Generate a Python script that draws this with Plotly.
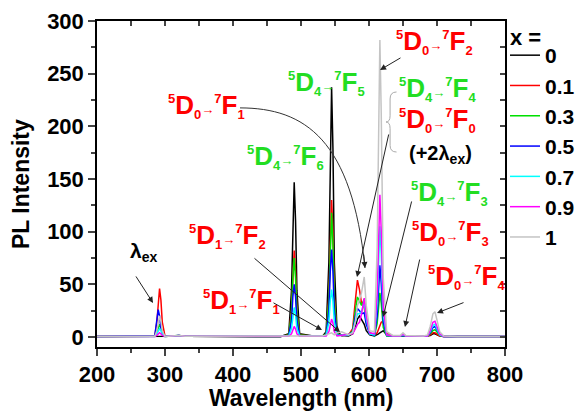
import plotly.graph_objects as go

# ---------------- data ----------------
wavelength = [200, 282,
              285, 288, 290, 292, 294, 296, 300,
              312, 320, 330,
              470,
              482, 486, 488, 490, 492, 494, 498,
              520, 532,
              537, 541, 543, 545, 547, 549, 553,
              560, 570,
              576, 580, 583, 586, 589, 593, 596, 601,
              608, 612, 614, 616, 618, 621, 626,
              635, 646, 650, 654, 680,
              686, 690, 694, 697, 700, 704, 710,
              730, 800]

x0_0 = [0.5, 0.5,
        0.5, 0.6, 0.8, 1, 0.8, 0.6, 0.5,
        0.8, 1.5, 0.8,
        0.5,
        3, 44, 110, 147, 110, 44, 3,
        0.8, 1,
        5, 71, 178, 237, 178, 71, 5,
        1.5, 1,
        3, 10, 17, 20, 16, 12, 6, 2,
        1, 2, 3, 4, 5, 6, 2,
        1, 1, 1.2, 1, 0.8,
        0.8, 1.5, 3, 3, 2, 1, 0.5,
        0.5, 0.5]

x0_1 = [0.5, 0.5,
        0.8, 14, 35, 46, 35, 14, 0.8,
        0.8, 1.5, 0.8,
        0.5,
        2, 25, 62, 82, 62, 25, 2,
        0.8, 1,
        3, 39, 98, 130, 98, 39, 3,
        1.5, 2,
        8, 35, 54, 45, 32, 28, 14, 4,
        2, 4, 8, 12, 14, 15, 4,
        1, 1, 1.5, 1, 0.8,
        0.8, 2, 4, 4, 3, 1, 0.5,
        0.5, 0.5]

x0_3 = [0.5, 0.5,
        0.6, 4, 9, 12, 9, 4, 0.6,
        0.8, 1.5, 0.8,
        0.5,
        2, 22, 56, 75, 56, 22, 2,
        0.8, 1,
        3, 35, 88, 118, 88, 35, 3,
        1.5, 2,
        6, 26, 38, 34, 30, 36, 18, 4,
        1, 13, 32, 42, 32, 9, 1,
        1, 1, 1.5, 1, 0.8,
        0.8, 3, 6, 7, 5, 1.5, 0.5,
        0.5, 0.5]

x0_5 = [0.5, 0.5,
        1, 16, 26, 20, 8, 3, 0.6,
        0.8, 1.5, 0.8,
        0.5,
        1.5, 15, 38, 50, 38, 15, 1.5,
        0.8, 1,
        2, 25, 62, 83, 62, 25, 2,
        1.5, 2,
        5, 20, 27, 25, 22, 23, 12, 3,
        1.5, 20, 51, 68, 51, 14, 1.5,
        1, 1, 1.5, 1, 0.8,
        1, 4, 9, 10, 7, 2, 0.5,
        0.5, 0.5]

x0_7 = [0.5, 0.5,
        0.5, 3, 6, 8, 6, 3, 0.5,
        0.8, 1.5, 0.8,
        0.5,
        1, 8, 21, 28, 21, 8, 1,
        0.8, 1,
        1.5, 14, 34, 45, 34, 14, 1.5,
        1.5, 2,
        4, 15, 22, 22, 24, 33, 17, 3,
        2, 32, 79, 105, 79, 21, 2,
        1, 1, 2, 1, 0.8,
        1, 5, 11, 12, 8, 2, 0.5,
        0.5, 0.5]

x0_9 = [0.5, 0.5,
        0.5, 1.5, 3, 4, 3, 1.5, 0.5,
        0.8, 1.5, 0.8,
        0.5,
        0.6, 3, 7.5, 10, 7.5, 3, 0.6,
        0.8, 1,
        1, 5, 13, 17, 13, 5, 1,
        1.5, 2,
        3, 8, 12, 14, 22, 37, 20, 4,
        3, 40, 101, 135, 101, 27, 2,
        1, 1, 2.5, 1, 0.8,
        1, 6, 14, 15, 10, 3, 0.5,
        0.5, 0.5]

x1_0 = [0.5, 0.5,
        0.5, 6, 15, 20, 15, 6, 0.5,
        0.8, 1.5, 0.8,
        0.5,
        0.8, 1, 1, 1, 1, 1, 0.8,
        0.8, 1,
        2, 3, 4, 4, 3, 2, 4,
        5, 2,
        4, 15, 30, 35, 42, 57, 30, 6,
        5, 85, 212, 282, 212, 56, 5,
        1.5, 1.5, 4, 1.5, 1,
        2, 10, 22, 24, 16, 5, 1,
        0.5, 0.5]

series_names = ["0", "0.1", "0.3", "0.5", "0.7", "0.9", "1"]
series_values = [x0_0, x0_1, x0_3, x0_5, x0_7, x0_9, x1_0]
series_colors = ["#000000", "#ff0000", "#00e000", "#0000ff", "#00ffff", "#ff00ff", "#c4c4c4"]

x_ticks = [200, 300, 400, 500, 600, 700, 800]
y_ticks = [0, 50, 100, 150, 200, 250, 300]

FONT = "Liberation Sans"
RED = "#ff0000"
GRN = "#22dd22"

fig = go.Figure()
for name, vals, col in zip(series_names, series_values, series_colors):
    fig.add_trace(go.Scatter(x=wavelength, y=vals, mode="lines", name=name,
                             legendgroup=name,
                             line=dict(color=col, width=1.5)))

# dummy trace for top/right tick axes
fig.add_trace(go.Scatter(x=[200], y=[0], xaxis="x2", yaxis="y2", mode="markers",
                         marker=dict(opacity=0), showlegend=False, hoverinfo="skip"))


def label(a, b, c, d, color):
    s = "<span style='font-size:13px'>"
    return (f"<sup>{s}{a}</span></sup>D<sub>{s}{b}</span></sub>"
            f"<span style='font-size:13px'>→</span>"
            f"<sup>{s}{c}</span></sup>F<sub>{s}{d}</span></sub>")


labels = [
    # text, x(nm), y(value), color
    (label(5, 0, 7, 1, RED), 301.5, 219.0, RED),
    (label(5, 4, 7, 5, GRN), 478.0, 241.3, GRN),
    (label(5, 4, 7, 6, GRN), 417.7, 171.0, GRN),
    (label(5, 0, 7, 2, RED), 636.8, 280.2, RED),
    (label(5, 4, 7, 4, GRN), 641.2, 235.6, GRN),
    (label(5, 0, 7, 0, RED), 641.2, 206.2, RED),
    (label(5, 4, 7, 3, GRN), 658.9, 136.9, GRN),
    (label(5, 0, 7, 3, RED), 660.4, 98.9, RED),
    (label(5, 0, 7, 4, RED), 683.9, 57.1, RED),
    (label(5, 1, 7, 2, RED), 332.4, 96.0, RED),
    (label(5, 1, 7, 1, RED), 353.0, 34.3, RED),
]
for txt, x, y, col in labels:
    fig.add_annotation(x=x, y=y, xref="x", yref="y", text=txt, showarrow=False,
                       xanchor="left", yanchor="middle",
                       font=dict(family=FONT, size=26, color=col, weight="bold"))

fig.add_annotation(x=245.6, y=80.7, text="λ<sub><span style='font-size:14px'>ex</span></sub>",
                   showarrow=False, xanchor="left", yanchor="middle",
                   font=dict(family=FONT, size=21, color="#000000", weight="bold"))
fig.add_annotation(x=655.9, y=172.8, text="(+2λ<sub><span style='font-size:14px'>ex</span></sub>)",
                   showarrow=False, xanchor="left", yanchor="middle",
                   font=dict(family=FONT, size=20, color="#000000", weight="bold"))

arrows = [
    # tail x, tail y, head x, head y
    (255.9, 58.9, 282.4, 32.3),
    (648.5, 265.8, 616.2, 253.5),
    (429.4, 75.9, 557.4, 4.7),
    (457.4, 33.2, 530.9, 6.6),
    (629.4, 193.7, 582.4, 57.0),
    (663.2, 130.1, 620.6, 19.0),
    (675.0, 75.0, 652.9, 9.5),
    (741.2, 33.2, 700.0, 22.8),
    (592.0, 79.7, 594.1, 65.5),
]
for tx, ty, hx, hy in arrows:
    fig.add_annotation(x=hx, y=hy, ax=tx, ay=ty, xref="x", yref="y", axref="x", ayref="y",
                       text="", showarrow=True, arrowhead=2, arrowsize=1.2, arrowwidth=1,
                       arrowcolor="#222222")

# curved arrow line
fig.add_shape(type="path", xref="x", yref="y",
              path="M 410.3,217.5 C 505.9,217.5 575,187.1 594.1,65.5",
              line=dict(color="#333333", width=1))
# curly brace
fig.add_shape(type="path", xref="x", yref="y",
              path=("M 640.5,232.6 Q 631,232.6 631,226 L 631,210 Q 631,204.1 625,204.1 "
                    "Q 631,204.1 631,198 L 631,182 Q 631,175.6 640.5,175.6"),
              line=dict(color="#aaaaaa", width=1))

# axis titles and legend title as paper annotations
fig.add_annotation(x=0.5, y=-0.156, xref="paper", yref="paper", text="Wavelength (nm)",
                   showarrow=False, xanchor="center", yanchor="middle",
                   font=dict(family=FONT, size=23, weight="bold"))
fig.add_annotation(x=-0.186, y=0.5, xref="paper", yref="paper", text="PL Intensity",
                   showarrow=False, xanchor="center", yanchor="middle", textangle=-90,
                   font=dict(family=FONT, size=23, weight="bold"))
fig.add_annotation(x=1.007, y=0.948, xref="paper", yref="paper", text="x =",
                   showarrow=False, xanchor="left", yanchor="middle",
                   font=dict(family=FONT, size=22, weight="bold"))

fig.update_layout(
    width=576, height=403,
    margin=dict(l=89, r=79, t=13, b=64, autoexpand=False),
    plot_bgcolor="white", paper_bgcolor="white",
    font=dict(family=FONT, color="black"),
    showlegend=True,
    legend=dict(x=1.0, xanchor="left", y=0.957, yanchor="top",
                font=dict(family=FONT, size=21, weight="bold"),
                traceorder="grouped", tracegroupgap=0,
                bgcolor="rgba(0,0,0,0)", borderwidth=0),
    xaxis=dict(range=[200, 800], tickvals=x_ticks, ticks="outside", ticklen=7, tickwidth=1.5,
               showline=True, linecolor="black", linewidth=1.5, mirror=True,
               showgrid=False, zeroline=False, automargin=False,
               minor=dict(ticks="outside", ticklen=4, dtick=50, tick0=200, tickwidth=1.5, showgrid=False),
               tickfont=dict(family=FONT, size=22, weight="bold")),
    yaxis=dict(range=[-9.5, 300], tickvals=y_ticks, ticks="outside", ticklen=7, tickwidth=1.5,
               showline=True, linecolor="black", linewidth=1.5, mirror=True,
               showgrid=False, zeroline=False, automargin=False,
               minor=dict(ticks="outside", ticklen=4, dtick=25, tick0=0, tickwidth=1.5, showgrid=False),
               tickfont=dict(family=FONT, size=22, weight="bold")),
    xaxis2=dict(range=[200, 800], overlaying="x", side="top", ticks="inside", ticklen=5,
                tickwidth=1.5, dtick=50, tick0=200, showticklabels=False, showgrid=False,
                zeroline=False, showline=False, automargin=False),
    yaxis2=dict(range=[-9.5, 300], overlaying="y", side="right", ticks="inside", ticklen=5,
                tickwidth=1.5, dtick=25, tick0=0, showticklabels=False, showgrid=False,
                zeroline=False, showline=False, automargin=False),
)

fig.write_html("out.html")
